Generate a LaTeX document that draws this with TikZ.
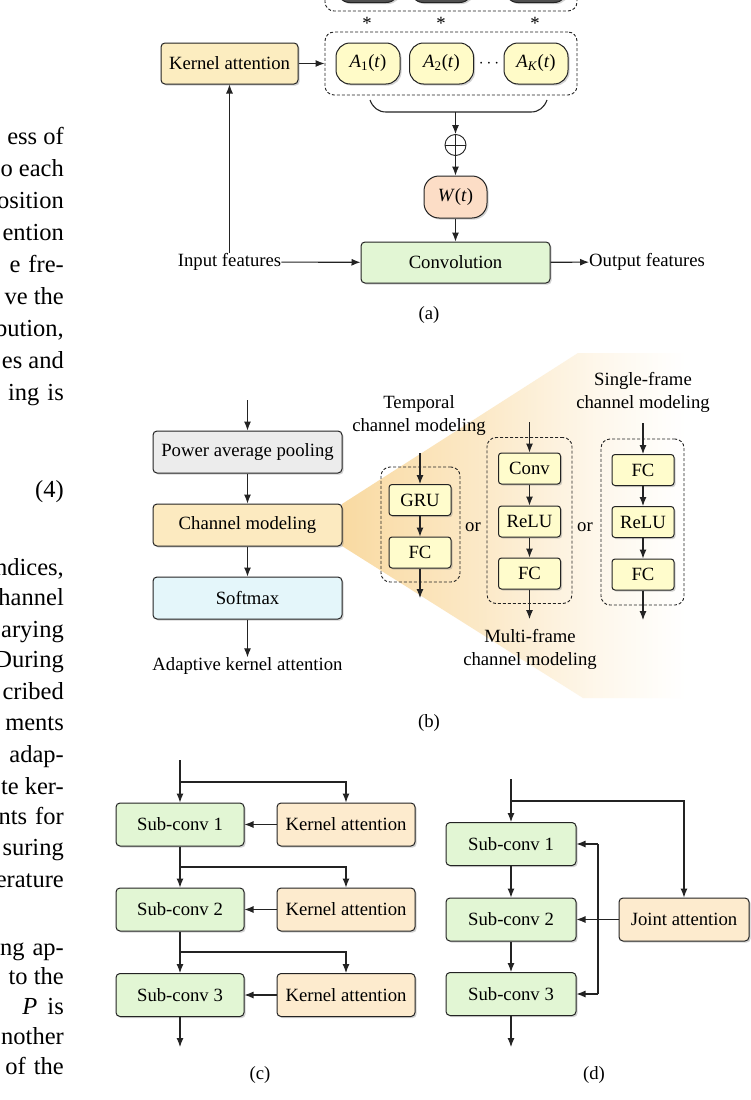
\documentclass[tikz,border=0pt]{standalone}
\usepackage{fontspec}
\setmainfont{Liberation Serif}
\usetikzlibrary{arrows.meta,shadows,calc}
\definecolor{kaA}{RGB}{252,237,192}
\definecolor{kaC}{RGB}{253,235,206}
\definecolor{aell}{RGB}{255,251,200}
\definecolor{wcol}{RGB}{252,221,198}
\definecolor{greenb}{RGB}{226,246,212}
\definecolor{grayb}{RGB}{236,236,236}
\definecolor{cmcol}{RGB}{252,234,192}
\definecolor{softc}{RGB}{228,246,250}
\definecolor{smallc}{RGB}{255,252,204}
\definecolor{fanc}{RGB}{249,218,162}
\definecolor{edgec}{RGB}{35,35,35}
\definecolor{darkb}{RGB}{80,80,80}
\pgfdeclarehorizontalshading{fanshade}{100bp}{color(0bp)=(fanc); color(25bp)=(fanc); color(42bp)=(fanc!60!white); color(56bp)=(fanc!22!white); color(67bp)=(white); color(100bp)=(white)}
\newcommand{\Asub}[1]{\textit{A}\textsubscript{#1}(\textit{t})}
\begin{document}
\begin{tikzpicture}[x=1pt,y=-1pt,
  every node/.style={font=\fontsize{18.7}{22}\selectfont, inner sep=0pt},
  box/.style={draw=edgec, line width=1pt, rounded corners=4pt,
    drop shadow={shadow xshift=1.6pt,shadow yshift=-1.6pt,opacity=0.35}},
  roundbox/.style={draw=edgec, line width=1pt, rounded corners=14pt,
    minimum width=64pt, minimum height=41pt,
    drop shadow={shadow xshift=1.6pt,shadow yshift=-1.6pt,opacity=0.35}},
  smallbox/.style={box, fill=smallc, rounded corners=3pt, minimum width=62pt, minimum height=31pt},
  dbox/.style={draw=edgec, line width=0.9pt, dash pattern=on 3pt off 2pt, rounded corners=9pt},
  arr/.style={-{Latex[length=9pt,width=7pt]}, line width=1.1pt, draw=edgec},
  ln/.style={line width=1.1pt, draw=edgec},
  bt/.style={anchor=base east, font=\fontsize{24.5}{30}\selectfont},
  lbl/.style={align=center, font=\fontsize{18.7}{23}\selectfont},
]
\useasboundingbox (0,0) rectangle (751,1100);
\clip (0,0) rectangle (751,1100);
\fill[white] (0,0) rectangle (751,1100);

% ---------------- body text fragments on the left
\node[bt] (t1) at (64,144) {ess of};
\node[bt] (t2) at (64,176) {o each};
\node[bt] (t3) at (64,208) {osition};
\node[bt] (t4) at (64,240) {ention};
\node[bt] (t5) at (64,272) {e\hspace{8pt}fre-};
\node[bt] (t6) at (64,304) {ve the};
\node[bt] (t7) at (64,336) {bution,};
\node[bt] (t8) at (64,368) {es and};
\node[bt] (t9) at (64,400) {ing\hspace{8pt}is};
\node[bt] (t10) at (64,497) {(4)};
\node[bt] (t11) at (64,575) {ndices,};
\node[bt] (t12) at (64,605) {hannel};
\node[bt] (t13) at (64,637) {arying};
\node[bt] (t14) at (64,667) {During};
\node[bt] (t15) at (64,699) {cribed};
\node[bt] (t16) at (64,730) {ments};
\node[bt] (t17) at (64,762) {adap-};
\node[bt] (t18) at (64,794) {te ker-};
\node[bt] (t19) at (64,824) {nts\hspace{8pt}for};
\node[bt] (t20) at (64,855) {suring};
\node[bt] (t21) at (64,887) {erature};
\node[bt] (t22) at (64,955) {ng\hspace{8pt}ap-};
\node[bt] (t23) at (64,984) {to the};
\node[bt] (t24) at (64,1014) {\textit{P}\hspace{10pt}is};
\node[bt] (t25) at (64,1044) {nother};
\node[bt] (t26) at (64,1074) {of\hspace{8pt}the};

% ---------------- (a)
\node[dbox, minimum width=252pt, minimum height=62pt] (topgrp) at (451,-20) {};
\node[roundbox, fill=darkb] (d1) at (368,-18) {};
\node[roundbox, fill=darkb] (d2) at (441.5,-18) {};
\node[roundbox, fill=darkb] (d3) at (536,-18) {};
\node (s1) at (367,23) {*};
\node (s2) at (441,23) {*};
\node (s3) at (535,23) {*};

\node[dbox, minimum width=252pt, minimum height=63pt] (grp) at (451,63.5) {};
\node[box, fill=kaA, minimum width=137pt, minimum height=41pt] (ka) at (229.5,63.5) {Kernel attention};
\node[roundbox, fill=aell] (a1) at (368,63.5) {\Asub{1}};
\node[roundbox, fill=aell] (a2) at (441.5,63.5) {\Asub{2}};
\node (dots) at (489,63.5) {$\cdots$};
\node[roundbox, fill=aell] (ak) at (536,63.5) {\Asub{\textit{K}}};
\draw[arr] (ka) -- (grp);

\draw[ln] (370,100) to[out=-70,in=180] (386,112) -- (531,112) to[out=0,in=-110] (547,100);
\coordinate (brc) at (455.5,112);
\node[circle, draw=edgec, line width=0.9pt, minimum size=21pt] (oplus) at (455.5,145) {};
\draw[line width=0.9pt, draw=edgec] (oplus.north) -- (oplus.south) (oplus.west) -- (oplus.east);
\draw[arr] (brc) -- (oplus);
\node[roundbox, fill=wcol, minimum width=63pt, minimum height=42pt, rounded corners=15pt] (w) at (455.5,197) {\textit{W}(\textit{t})};
\draw[arr] (oplus) -- (w);
\node[box, fill=greenb, minimum width=189pt, minimum height=41pt] (conv) at (455.5,262.5) {Convolution};
\draw[arr] (w) -- (conv);
\node (inp) at (229.5,262) {Input features};
\draw[arr] (inp) -- (conv);
\draw[arr] (inp) -- (ka);
\node[anchor=west] (outf) at (589,262) {Output features};
\draw[arr] (conv) -- (outf);
\node (capa) at (429,315) {(a)};

% ---------------- (b)
\shade[shading=fanshade] (342,504) -- (578,353) -- (751,353) -- (751,698) -- (583,698) -- (342,546) -- cycle;

\coordinate (pin) at (247.5,400);
\node[box, fill=grayb, minimum width=189pt, minimum height=42pt] (pap) at (247.5,452) {Power average pooling};
\node[box, fill=cmcol, minimum width=189pt, minimum height=42pt] (cm) at (247.5,525) {Channel modeling};
\node[box, fill=softc, minimum width=189pt, minimum height=42pt] (soft) at (247.5,598) {Softmax};
\node (aka) at (247.5,666) {Adaptive kernel attention};
\draw[arr] (pin) -- (pap);
\draw[arr] (pap) -- (cm);
\draw[arr] (cm) -- (soft);
\draw[arr] (soft) -- (aka);

% temporal
\node[lbl] (tlab) at (419,415.5) {Temporal\\channel modeling};
\node[dbox, minimum width=79pt, minimum height=115pt] (tg) at (420.5,524.5) {};
\node[smallbox] (gru) at (420,500) {GRU};
\node[smallbox] (tfc) at (420,552.5) {FC};
\coordinate (tin) at (420,453);
\coordinate (tout) at (420,598);
\draw[arr] (tin) -- (gru);
\draw[arr] (gru) -- (tfc);
\draw[arr] (tfc) -- (tout);
\node (or1) at (473,527) {or};

% multi-frame
\node[dbox, minimum width=85pt, minimum height=166pt] (mg) at (529.5,520.5) {};
\node[smallbox] (mconv) at (529.5,468.5) {Conv};
\node[smallbox] (mrelu) at (529.5,521.5) {ReLU};
\node[smallbox] (mfc) at (529.5,573.5) {FC};
\coordinate (min) at (529.5,422);
\coordinate (mout) at (529.5,619);
\draw[arr] (min) -- (mconv);
\draw[arr] (mconv) -- (mrelu);
\draw[arr] (mrelu) -- (mfc);
\draw[arr] (mfc) -- (mout);
\node[lbl] (mlab) at (530,649.5) {Multi-frame\\channel modeling};
\node (or2) at (585,527) {or};

% single-frame
\node[lbl] (slab) at (643,392) {Single-frame\\channel modeling};
\node[dbox, minimum width=83pt, minimum height=166pt] (sg) at (642.5,522) {};
\node[smallbox] (sfc1) at (643,470) {FC};
\node[smallbox] (srelu) at (643,522) {ReLU};
\node[smallbox] (sfc2) at (643,574.5) {FC};
\coordinate (sin) at (643,423);
\coordinate (sout) at (643,620);
\draw[arr] (sin) -- (sfc1);
\draw[arr] (sfc1) -- (srelu);
\draw[arr] (srelu) -- (sfc2);
\draw[arr] (sfc2) -- (sout);

\node (capb) at (429,723) {(b)};

% ---------------- (c)
\node[box, fill=greenb, minimum width=128pt, minimum height=43pt] (sc1) at (180,824.5) {Sub-conv 1};
\node[box, fill=kaC, minimum width=138pt, minimum height=43pt] (kc1) at (346,824.5) {Kernel attention};
\node[box, fill=greenb, minimum width=128pt, minimum height=43pt] (sc2) at (180,909.5) {Sub-conv 2};
\node[box, fill=kaC, minimum width=138pt, minimum height=43pt] (kc2) at (346,909.5) {Kernel attention};
\node[box, fill=greenb, minimum width=128pt, minimum height=43pt] (sc3) at (180,995) {Sub-conv 3};
\node[box, fill=kaC, minimum width=138pt, minimum height=43pt] (kc3) at (346,995) {Kernel attention};
\coordinate (cin) at (180,760);
\coordinate (cb1) at (180,782);
\coordinate (cb2) at (180,867);
\coordinate (cb3) at (180,952);
\coordinate (cout) at (180,1047);
\draw[arr] (cin) -- (sc1);
\draw[arr] (cb1) -| (kc1);
\draw[arr] (kc1) -- (sc1);
\draw[arr] (sc1) -- (sc2);
\draw[arr] (cb2) -| (kc2);
\draw[arr] (kc2) -- (sc2);
\draw[arr] (sc2) -- (sc3);
\draw[arr] (cb3) -| (kc3);
\draw[arr] (kc3) -- (sc3);
\draw[arr] (sc3) -- (cout);
\node (capc) at (260,1075) {(c)};

% ---------------- (d)
\node[box, fill=greenb, minimum width=130pt, minimum height=43pt] (dc1) at (511,844) {Sub-conv 1};
\node[box, fill=greenb, minimum width=130pt, minimum height=43pt] (dc2) at (511,919.5) {Sub-conv 2};
\node[box, fill=greenb, minimum width=130pt, minimum height=43pt] (dc3) at (511,994) {Sub-conv 3};
\node[box, fill=kaC, minimum width=130pt, minimum height=43pt] (ja) at (684,919.5) {Joint attention};
\coordinate (din) at (511,779);
\coordinate (db) at (511,801);
\coordinate (dout) at (511,1047);
\coordinate (vt) at (598,844);
\coordinate (vb) at (598,994);
\draw[arr] (din) -- (dc1);
\draw[arr] (db) -| (ja);
\draw[arr] (dc1) -- (dc2);
\draw[arr] (dc2) -- (dc3);
\draw[arr] (dc3) -- (dout);
\draw[arr] (ja) -- (dc2);
\draw[ln] (vt) -- (vb);
\draw[arr] (vt) -- (dc1);
\draw[arr] (vb) -- (dc3);
\node (capd) at (594,1075) {(d)};
\end{tikzpicture}
\end{document}
